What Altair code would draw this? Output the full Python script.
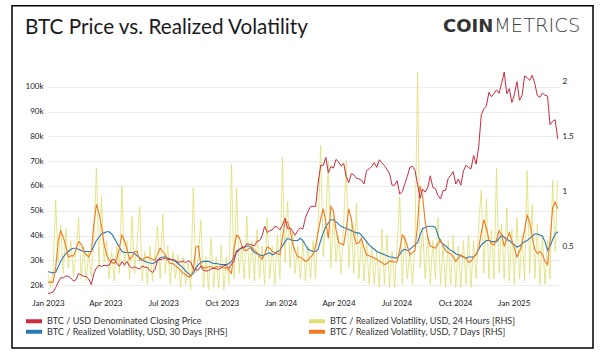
import altair as alt
import pandas as pd

# ---------------- data (values every 4 days from 2023-01-01) ----------------
START = "2023-01-01"
STEP_DAYS = 4

# legend order is column-major: (price, 30d) in column 1, (24h, 7d) in column 2
series_names = [
    "BTC / USD Denominated Closing Price",
    "BTC / Realized Volatility, USD, 30 Days [RHS]",
    "BTC / Realized Volatility, USD, 24 Hours [RHS]",
    "BTC / Realized Volatility, USD, 7 Days [RHS]",
]
series_colors = ["#cc2b3f", "#2a78b5", "#dfdf72", "#f27a1f"]

# BTC price, thousands of USD
price_k = [
    16.6, 16.8, 17.2, 19.0, 21.2, 23.0, 22.9, 23.7, 23.5, 22.8,
    21.6, 22.2, 24.6, 24.2, 23.5, 23.5, 22.4, 20.2, 24.7, 26.9,
    28.0, 27.5, 28.0, 27.8, 28.0, 30.2, 30.4, 28.8, 27.6, 29.5,
    28.1, 29.5, 27.6, 26.8, 27.4, 26.8, 26.5, 27.7, 27.2, 27.2,
    25.8, 25.1, 26.3, 30.0, 30.3, 30.5, 31.0, 30.3, 30.4, 30.3,
    29.9, 29.2, 29.3, 29.7, 29.0, 29.8, 29.3, 26.6, 26.1, 26.1,
    27.7, 25.9, 25.7, 25.8, 26.5, 26.8, 26.6, 26.3, 27.0, 27.8,
    27.9, 26.7, 28.5, 29.7, 33.9, 34.1, 35.4, 35.0, 36.7, 36.5,
    36.2, 35.8, 37.7, 37.9, 39.9, 43.7, 41.2, 41.9, 42.3, 43.7,
    43.4, 42.3, 44.2, 47.0, 42.8, 43.1, 41.7, 40.1, 42.0, 43.1,
    42.6, 47.1, 49.7, 51.6, 51.8, 51.7, 61.2, 68.3, 68.3, 71.5,
    65.3, 67.9, 67.2, 70.7, 69.7, 68.0, 69.1, 63.9, 61.3, 64.9,
    64.5, 63.1, 62.9, 62.3, 60.8, 66.2, 66.9, 67.9, 69.4, 67.5,
    70.6, 69.3, 68.2, 66.6, 65.0, 60.3, 60.3, 62.1, 56.7, 57.7,
    60.8, 63.9, 67.6, 67.9, 66.2, 60.7, 55.1, 58.7, 57.5, 59.4,
    64.1, 59.4, 58.9, 56.2, 54.8, 58.1, 58.2, 63.0, 64.3, 65.8,
    60.8, 62.8, 60.3, 66.1, 68.4, 67.4, 67.0, 72.3, 68.8, 75.9,
    88.7, 91.1, 92.3, 97.8, 96.0, 97.3, 98.8, 97.4, 101.4, 106.0,
    97.2, 99.3, 93.7, 96.9, 102.1, 94.6, 96.5, 104.4, 103.7, 102.6,
    104.7, 101.4, 96.5, 95.8, 97.5, 96.6, 96.3, 84.7, 86.1, 86.7,
    79.0,
]

vol_24h = [
    .25, .12, .28, .92, .35, .69, .25, .66, .30, .55,
    .22, .45, .76, .20, .50, .18, .45, .22, .55, 1.21,
    .30, .95, .35, .55, .20, .45, .18, .50, .25, 1.05,
    .30, .55, .20, .77, .25, .55, .86, .18, .45, .15,
    .50, .18, .45, .68, .20, .79, .25, .50, .15, .45,
    .20, .42, .12, .40, .15, .35, .10, 1.03, .25, .40,
    .74, .12, .40, .10, .57, .12, .40, .12, .51, .10,
    .40, .15, 1.25, .20, 1.03, .25, .50, .20, .77, .20,
    .55, .18, .65, .20, .50, .15, .76, .20, .50, .15,
    .61, .20, 1.31, .35, .91, .30, .63, .25, .50, .20,
    .55, .18, .50, .20, .55, .20, .70, 1.42, .40, .75,
    1.27, .30, .80, .35, .60, .25, .70, 1.28, .30, .70,
    .25, .89, .20, .60, .18, .55, .15, .50, .15, .45,
    .12, .65, .15, .60, .12, .45, .12, .50, .95, .15,
    .60, .20, .45, .15, .50, 2.09, .30, .66, .20, .60,
    .15, .55, .20, .76, .15, .50, .12, .55, .15, .60,
    .12, .50, .12, .55, .15, .60, .12, .55, .20, .70,
    1.01, .25, .93, .20, .65, .20, 1.21, .25, .70, .20,
    .85, .18, .65, .15, .76, .20, .60, .18, 1.19, .25,
    .88, .20, .70, .15, .60, .15, .55, .20, 1.10, .45,
    1.10,
]

vol_30d = [
    .265, .26, .255, .26, .31, .36, .40, .43, .45, .47,
    .48, .48, .47, .46, .45, .45, .45, .45, .50, .55,
    .58, .61, .62, .63, .63, .61, .57, .53, .49, .45,
    .44, .44, .44, .44, .43, .41, .39, .37, .36, .35,
    .345, .34, .35, .37, .39, .40, .40, .39, .38, .37,
    .36, .34, .32, .30, .27, .25, .23, .25, .30, .33,
    .35, .36, .36, .36, .35, .34, .34, .335, .33, .33,
    .33, .34, .36, .40, .44, .47, .48, .49, .50, .50,
    .47, .44, .43, .42, .41, .42, .43, .44, .42, .43,
    .45, .46, .50, .54, .57, .56, .55, .55, .55, .57,
    .55, .51, .47, .46, .45, .45, .47, .55, .62, .68,
    .71, .74, .74, .72, .70, .68, .67, .66, .65, .64,
    .63, .62, .62, .60, .57, .54, .51, .49, .47, .45,
    .44, .43, .42, .41, .40, .40, .39, .39, .42, .46,
    .47, .46, .47, .49, .51, .53, .60, .66, .67, .68,
    .68, .68, .67, .60, .54, .52, .50, .48, .46, .45,
    .43, .42, .41, .40, .39, .40, .40, .40, .42, .47,
    .51, .53, .55, .55, .54, .54, .54, .57, .60, .58,
    .56, .55, .53, .51, .49, .50, .52, .54, .55, .57,
    .59, .61, .61, .60, .59, .54, .46, .50, .56, .61,
    .63,
]

vol_7d = [
    .17, .17, .17, .30, .55, .64, .58, .50, .40, .41,
    .41, .47, .54, .52, .45, .42, .40, .45, .70, .88,
    .80, .68, .52, .42, .37, .35, .34, .38, .48, .60,
    .55, .47, .38, .40, .45, .45, .37, .38, .39, .40,
    .39, .38, .37, .43, .48, .45, .42, .37, .34, .34,
    .32, .30, .28, .25, .24, .22, .22, .28, .49, .50,
    .32, .30, .30, .31, .31, .30, .31, .31, .31, .30,
    .30, .28, .25, .48, .60, .58, .51, .46, .46, .48,
    .49, .46, .44, .40, .38, .42, .49, .48, .45, .44,
    .43, .42, .58, .72, .72, .65, .52, .45, .40, .40,
    .38, .36, .37, .40, .42, .50, .63, .75, .84, .72,
    .57, .86, .82, .65, .53, .52, .51, .65, .84, .75,
    .60, .52, .53, .57, .48, .42, .41, .40, .39, .38,
    .36, .35, .33, .34, .36, .36, .35, .36, .46, .60,
    .57, .50, .42, .44, .46, .70, 1.05, .95, .72, .58,
    .50, .49, .48, .52, .56, .50, .46, .44, .43, .40,
    .36, .39, .42, .40, .39, .35, .36, .40, .42, .48,
    .62, .74, .66, .56, .52, .51, .56, .64, .60, .50,
    .56, .62, .55, .48, .40, .45, .52, .65, .78, .72,
    .58, .47, .43, .45, .42, .36, .33, .55, .85, .90,
    .84,
]

left_ticks = [20, 30, 40, 50, 60, 70, 80, 90, 100]
right_ticks = [0.5, 1, 1.5, 2]
x_tick_months = [(2023, 1), (2023, 4), (2023, 7), (2023, 10), (2024, 1),
                 (2024, 4), (2024, 7), (2024, 10), (2025, 1)]


def frame(values, name):
    dates = pd.date_range(START, periods=len(values), freq=f"{STEP_DAYS}D")
    return pd.DataFrame({"date": dates.strftime("%Y-%m-%d"),
                         "value": values, "series": name})


df_price = frame(price_k, series_names[0])
df_30d = frame(vol_30d, series_names[1])
df_24h = frame(vol_24h, series_names[2])
df_7d = frame(vol_7d, series_names[3])

FONT = "Lato"

x_enc = alt.X(
    "date:T",
    scale=alt.Scale(type="utc",
                    domain=[alt.DateTime(year=2023, month=1, date=1, utc=True),
                            alt.DateTime(year=2025, month=3, date=13, utc=True)]),
    axis=alt.Axis(
        title=None, values=[alt.DateTime(year=y, month=m, date=1, utc=True)
                            for y, m in x_tick_months],
        labelExpr="utcFormat(datum.value, '%b %Y')",
        grid=False, ticks=False, domain=False,
        labelFlush=False, labelOverlap=False, labelPadding=6,
        labelFont=FONT, labelFontSize=8, labelColor="#222"),
)

color_enc = alt.Color(
    "series:N",
    scale=alt.Scale(domain=series_names, range=series_colors),
    legend=alt.Legend(
        title=None, orient="none", legendX=-24, legendY=243.7, columns=2,
        columnPadding=79, rowPadding=0, padding=0, clipHeight=10,
        symbolType="stroke", symbolSize=256, symbolStrokeWidth=4,
        symbolOpacity=1, labelFont=FONT, labelFontSize=9.1, labelColor="#333",
        labelOffset=3, labelLimit=400),
)

vol_scale = alt.Scale(domain=[0.066, 2.09], nice=False, zero=False)

yellow = alt.Chart(df_24h).mark_line(strokeWidth=1, opacity=0.8).encode(
    x=x_enc,
    y=alt.Y("value:Q", scale=vol_scale,
            axis=alt.Axis(title=None, orient="right", values=right_ticks,
                          format="~g", grid=False, ticks=False, domain=False,
                          labelPadding=3, labelFont=FONT, labelFontSize=8,
                          labelColor="#222")),
    color=color_enc,
)
blue = alt.Chart(df_30d).mark_line(strokeWidth=1.1).encode(
    x=x_enc, y=alt.Y("value:Q", scale=vol_scale, axis=None), color=color_enc)
orange = alt.Chart(df_7d).mark_line(strokeWidth=1.1).encode(
    x=x_enc, y=alt.Y("value:Q", scale=vol_scale, axis=None), color=color_enc)
red = alt.Chart(df_price).mark_line(strokeWidth=1).encode(
    x=x_enc,
    y=alt.Y("value:Q", scale=alt.Scale(domain=[16.6, 106.0], nice=False, zero=False),
            axis=alt.Axis(title=None, orient="left", values=left_ticks,
                          labelExpr="datum.value + 'k'", grid=True,
                          gridColor="#ececec", gridWidth=1, ticks=False,
                          domain=False, labelPadding=5, labelFont=FONT,
                          labelFontSize=8, labelColor="#222")),
    color=color_enc,
)

one = pd.DataFrame({"k": [0]})

border = alt.Chart(one).mark_rect(
    fill="white", fillOpacity=0, stroke="black", strokeWidth=1.5
).encode(x=alt.value(-36), x2=alt.value(545), y=alt.value(-66.3), y2=alt.value(276))

title = alt.Chart(one).mark_text(
    align="left", baseline="alphabetic", font=FONT, fontSize=20.7, color="#1a1a1a"
).encode(x=alt.value(-23), y=alt.value(-38),
         text=alt.value("BTC Price vs. Realized Volatility"))

coin = alt.Chart(one).mark_text(
    align="left", baseline="alphabetic", font="DejaVu Sans", fontSize=18,
    fontWeight="bold", color="#333"
).encode(x=alt.value(395), y=alt.value(-39.7), text=alt.value("COIN"))

metrics = alt.Chart(one).mark_text(
    align="left", baseline="alphabetic", font="DejaVu Sans", fontSize=19.5,
    fontWeight=200, color="#444"
).encode(x=alt.value(446), y=alt.value(-39.7), text=alt.value("METRICS"))

chart = alt.layer(
    border, title, coin, metrics, yellow, blue, orange, red
).resolve_scale(y="independent").properties(
    width=511, height=221.5,
    autosize=alt.AutoSizeParams(type="none"),
    padding={"left": 48, "top": 72, "right": 41, "bottom": 60},
    background="white",
).configure_view(stroke=None)

chart.save("out.html", embed_options={"renderer": "svg", "actions": False})
